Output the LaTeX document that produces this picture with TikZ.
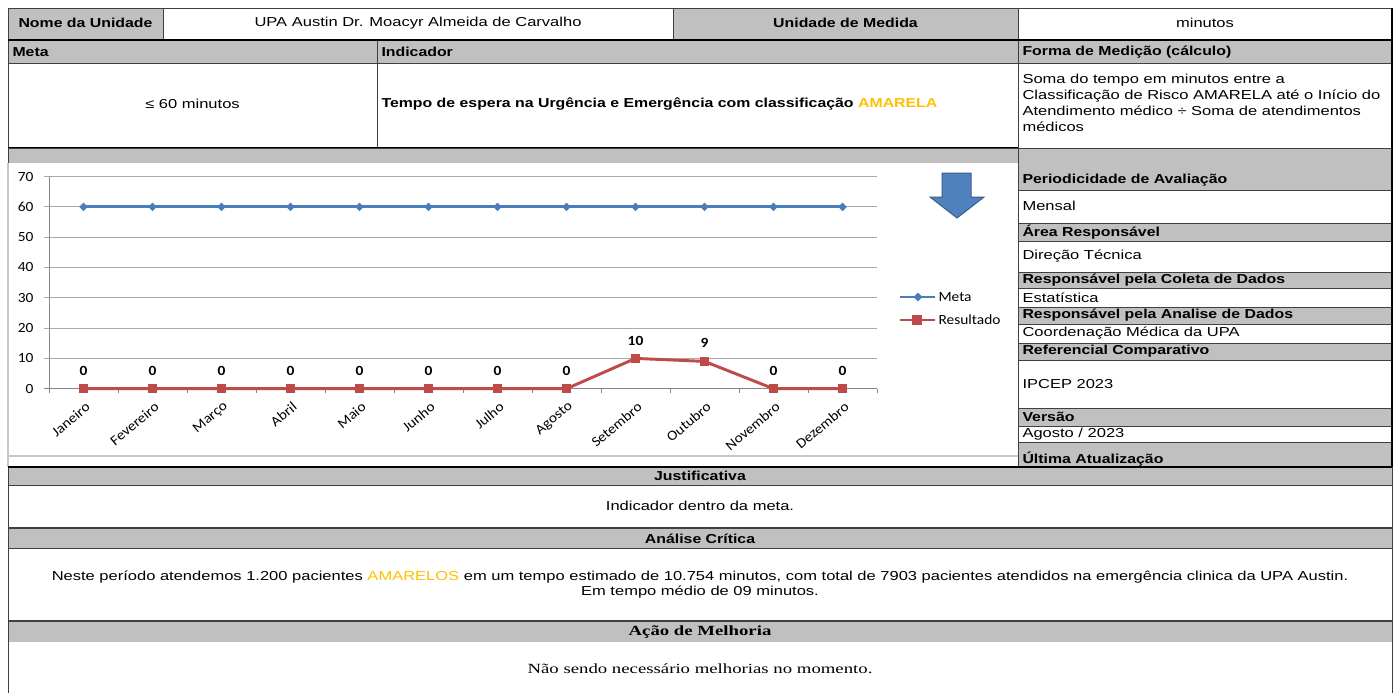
\documentclass[tikz,border=0pt]{standalone}
\usepackage{fontspec}
\setmainfont{Liberation Sans}[FakeStretch=1.27, BoldFeatures={FakeStretch=1.22}]
\newfontfamily\chartfont{Carlito}[FakeStretch=1.1]
\newfontfamily\timesfont{Liberation Serif}[FakeStretch=1.34]

\definecolor{cellgray}{RGB}{192,192,192}
\definecolor{edgegray}{RGB}{64,64,64}
\definecolor{bordergray}{RGB}{200,200,200}
\definecolor{gridgray}{RGB}{170,170,170}
\definecolor{axisgray}{RGB}{134,134,134}
\definecolor{amarelo}{RGB}{255,192,0}
\definecolor{metablue}{RGB}{74,126,187}
\definecolor{resred}{RGB}{190,75,72}
\definecolor{arrowblue}{RGB}{79,129,189}
\definecolor{arrowedge}{RGB}{56,93,138}

\newcommand\celltxt{\fontsize{9.75}{12}\selectfont}
\newcommand\charttxt{\chartfont\fontsize{10.5}{12}\selectfont}
\newcommand\serifcell{\timesfont\fontsize{10.5}{12}\selectfont}

\tikzset{every picture/.style={line width=0.75pt}}
\tikzset{
  graycell/.style={draw=edgegray, fill=cellgray},
  whitecell/.style={draw=edgegray, fill=white},
  celltext/.style={inner sep=0.75pt, font=\celltxt},
  cellhead/.style={inner sep=0.75pt, font=\celltxt\bfseries},
  serifhead/.style={inner sep=0.75pt, font=\serifcell\bfseries},
  seriftext/.style={inner sep=0.75pt, font=\serifcell},
  gridline/.style={draw=gridgray},
  axistext/.style={inner sep=0.75pt, font=\charttxt},
  datalabel/.style={inner sep=0.75pt, font=\charttxt\bfseries},
  monthlabel/.style={inner sep=0.75pt, font=\charttxt, anchor=east, rotate=40},
  metaline/.style={draw=metablue, line width=2.2pt},
  resline/.style={draw=resred, line width=2.2pt},
  metamark/.style={rectangle, fill=metablue, inner sep=0pt, minimum size=4.6pt, rotate=45},
  resmark/.style={rectangle, fill=resred, inner sep=0pt, minimum size=7pt},
}

\begin{document}
\begin{tikzpicture}[x=0.75pt,y=0.75pt,yscale=-1,xscale=1]
%set diagram left start at 0, and has height of 693
\useasboundingbox (0,0) rectangle (1400,693);
\fill[white] (0,0) rectangle (1400,693);

%Shape: Rectangle (first row)
\draw[graycell] (8,8) rectangle (163,40);
\draw[whitecell] (163,8) rectangle (673,40);
\draw[graycell] (673,8) rectangle (1018,40);
\draw[whitecell] (1018,8) rectangle (1392,40);
%Shape: Rectangle (headers)
\draw[graycell] (8,40) rectangle (377,63);
\draw[graycell] (377,40) rectangle (1018,63);
\draw[graycell] (1018,40) rectangle (1392,63);
%Shape: Rectangle (meta, indicador, calculo)
\draw[whitecell] (8,63) rectangle (377,148);
\draw[whitecell] (377,63) rectangle (1018,148);
\draw[whitecell] (1018,63) rectangle (1392,148);
%Straight Lines
\draw[line width=1.5pt] (8,40) -- (1392,40);
\draw[line width=1.5pt] (8,148) -- (1018,148);

%Shape: Rectangle (chart area)
\draw[graycell] (8,148) rectangle (1018,163);
\fill[white] (8,163) rectangle (1018,467);
\draw[draw=bordergray, line width=1.5pt] (8,163) -- (8,467);
\draw[draw=bordergray, line width=1.5pt] (8,456) -- (1018,456);

%Shape: Rectangle (right column)
\draw[graycell] (1018,148) rectangle (1392,190);
\draw[whitecell] (1018,190) rectangle (1392,223);
\draw[graycell] (1018,223) rectangle (1392,241);
\draw[whitecell] (1018,241) rectangle (1392,272);
\draw[graycell] (1018,272) rectangle (1392,288);
\draw[whitecell] (1018,288) rectangle (1392,307);
\draw[graycell] (1018,307) rectangle (1392,324);
\draw[whitecell] (1018,324) rectangle (1392,343);
\draw[graycell] (1018,343) rectangle (1392,360);
\draw[whitecell] (1018,360) rectangle (1392,408);
\draw[graycell] (1018,408) rectangle (1392,426);
\draw[whitecell] (1018,426) rectangle (1392,442);
\draw[graycell] (1018,442) rectangle (1392,467);
%Straight Lines
\draw[line width=1.5pt] (1392,8) -- (1392,467);

%Shape: Rectangle (bottom sections)
\draw[graycell] (8,467) rectangle (1392,485);
\draw[whitecell] (8,485) rectangle (1392,528);
\draw[graycell] (8,528) rectangle (1392,548);
\draw[whitecell] (8,548) rectangle (1392,621);
\draw[graycell] (8,621) rectangle (1392,642);
\fill[white] (8,642) rectangle (1392,693);
\draw[draw=edgegray] (8,642) -- (8,693);
\draw[draw=edgegray] (1392,642) -- (1392,693);
%Straight Lines
\draw[line width=1.5pt] (8,467) -- (1392,467);
\draw[draw=edgegray, line width=1.2pt] (8,528) -- (1392,528);
\draw[draw=edgegray, line width=1.2pt] (8,621) -- (1392,621);

% Text Node
\draw (85.5,23) node (nomeUnid) [cellhead] {Nome da Unidade};
% Text Node
\draw (418,23) node (nomeUpa) [celltext] {UPA Austin Dr. Moacyr Almeida de Carvalho};
% Text Node
\draw (845.5,23) node (unidMedida) [cellhead] {Unidade de Medida};
% Text Node
\draw (1205,23) node (minutos) [celltext] {minutos};
% Text Node
\draw (11,52) node (meta) [cellhead, anchor=west] {Meta};
% Text Node
\draw (380,52) node (indicador) [cellhead, anchor=west] {Indicador};
% Text Node
\draw (1021,52) node (formaMed) [cellhead, anchor=west] {Forma de Medição (cálculo)};
% Text Node
\draw (192.5,104) node (metaVal) [celltext] {≤ 60 minutos};
% Text Node
\draw (380,104) node (indicVal) [cellhead, anchor=west] {Tempo de espera na Urgência e Emergência com classificação \textcolor{amarelo}{AMARELA}};
% Text Node
\draw (1021,103) node (calculo) [celltext, anchor=west, align=left] {Soma do tempo em minutos entre a\\Classificação de Risco AMARELA até o Início do\\Atendimento médico ÷ Soma de atendimentos\\médicos};

% Text Node
\draw (1021,180) node (periodo) [cellhead, anchor=west] {Periodicidade de Avaliação};
\draw (1021,206) node (mensal) [celltext, anchor=west] {Mensal};
\draw (1021,232) node (area) [cellhead, anchor=west] {Área Responsável};
\draw (1021,256) node (direcao) [celltext, anchor=west] {Direção Técnica};
\draw (1021,280) node (coleta) [cellhead, anchor=west] {Responsável pela Coleta de Dados};
\draw (1021,297.5) node (estat) [celltext, anchor=west] {Estatística};
\draw (1021,315.5) node (analise) [cellhead, anchor=west] {Responsável pela Analise de Dados};
\draw (1021,333.5) node (coord) [celltext, anchor=west] {Coordenação Médica da UPA};
\draw (1021,351.5) node (referencial) [cellhead, anchor=west] {Referencial Comparativo};
\draw (1021,384) node (ipcep) [celltext, anchor=west] {IPCEP 2023};
\draw (1021,417) node (versao) [cellhead, anchor=west] {Versão};
\draw (1021,434) node (agosto) [celltext, anchor=west] {Agosto / 2023};
\draw (1021,459) node (ultima) [cellhead, anchor=west] {Última Atualização};

% Text Node
\draw (700,476) node (justif) [cellhead] {Justificativa};
\draw (700,506) node (justifTxt) [celltext] {Indicador dentro da meta.};
\draw (700,538.5) node (critica) [cellhead] {Análise Crítica};
\draw (700,584.5) node (criticaTxt) [celltext, align=center, font=\fontsize{9.75}{11.25}\selectfont] {Neste período atendemos 1.200 pacientes \textcolor{amarelo}{AMARELOS} em um tempo estimado de 10.754 minutos, com total de 7903 pacientes atendidos na emergência clinica da UPA Austin.\\Em tempo médio de 09 minutos.};
\draw (700,632) node (melhoria) [serifhead] {Ação de Melhoria};
\draw (700,669) node (melhoriaTxt) [seriftext] {Não sendo necessário melhorias no momento.};

%Straight Lines (grid)
\draw[gridline] (44,358.4) -- (877,358.4);
\draw[gridline] (44,328.1) -- (877,328.1);
\draw[gridline] (44,297.8) -- (877,297.8);
\draw[gridline] (44,267.5) -- (877,267.5);
\draw[gridline] (44,237.2) -- (877,237.2);
\draw[gridline] (44,206.9) -- (877,206.9);
\draw[gridline] (44,176.6) -- (877,176.6);
%Straight Lines (axes)
\draw[draw=axisgray] (49,176.6) -- (49,393);
\draw[draw=axisgray] (44,388.7) -- (877,388.7);
\draw[draw=axisgray] (118,388.7) -- (118,393) (187,388.7) -- (187,393) (256,388.7) -- (256,393) (325,388.7) -- (325,393) (394,388.7) -- (394,393) (463,388.7) -- (463,393) (532,388.7) -- (532,393) (601,388.7) -- (601,393) (670,388.7) -- (670,393) (739,388.7) -- (739,393) (808,388.7) -- (808,393) (877,388.7) -- (877,393);

% Text Node
\draw (35,388.7) node (y0) [axistext, anchor=east] {0};
\draw (35,358.4) node (y10) [axistext, anchor=east] {10};
\draw (35,328.1) node (y20) [axistext, anchor=east] {20};
\draw (35,297.8) node (y30) [axistext, anchor=east] {30};
\draw (35,267.5) node (y40) [axistext, anchor=east] {40};
\draw (35,237.2) node (y50) [axistext, anchor=east] {50};
\draw (35,206.9) node (y60) [axistext, anchor=east] {60};
\draw (35,176.6) node (y70) [axistext, anchor=east] {70};

% Data points
\coordinate (mt1) at (83.5,206.9);
\coordinate (mt2) at (152.5,206.9);
\coordinate (mt3) at (221.5,206.9);
\coordinate (mt4) at (290.5,206.9);
\coordinate (mt5) at (359.5,206.9);
\coordinate (mt6) at (428.5,206.9);
\coordinate (mt7) at (497.5,206.9);
\coordinate (mt8) at (566.5,206.9);
\coordinate (mt9) at (635.5,206.9);
\coordinate (mt10) at (704.5,206.9);
\coordinate (mt11) at (773.5,206.9);
\coordinate (mt12) at (842.5,206.9);
\coordinate (rs1) at (83.5,388.7);
\coordinate (rs2) at (152.5,388.7);
\coordinate (rs3) at (221.5,388.7);
\coordinate (rs4) at (290.5,388.7);
\coordinate (rs5) at (359.5,388.7);
\coordinate (rs6) at (428.5,388.7);
\coordinate (rs7) at (497.5,388.7);
\coordinate (rs8) at (566.5,388.7);
\coordinate (rs9) at (635.5,358.4);
\coordinate (rs10) at (704.5,361.4);
\coordinate (rs11) at (773.5,388.7);
\coordinate (rs12) at (842.5,388.7);

%Straight Lines (Meta series)
\draw[metaline] (mt1) -- (mt2) -- (mt3) -- (mt4) -- (mt5) -- (mt6) -- (mt7) -- (mt8) -- (mt9) -- (mt10) -- (mt11) -- (mt12);
%Straight Lines (Resultado series)
\draw[resline] (rs1) -- (rs2) -- (rs3) -- (rs4) -- (rs5) -- (rs6) -- (rs7) -- (rs8) -- (rs9) -- (rs10) -- (rs11) -- (rs12);
% Markers
\path (mt1) node (mk1) [metamark] {} (mt2) node (mk2) [metamark] {} (mt3) node (mk3) [metamark] {} (mt4) node (mk4) [metamark] {} (mt5) node (mk5) [metamark] {} (mt6) node (mk6) [metamark] {} (mt7) node (mk7) [metamark] {} (mt8) node (mk8) [metamark] {} (mt9) node (mk9) [metamark] {} (mt10) node (mk10) [metamark] {} (mt11) node (mk11) [metamark] {} (mt12) node (mk12) [metamark] {};
\path (rs1) node (rk1) [resmark] {} (rs2) node (rk2) [resmark] {} (rs3) node (rk3) [resmark] {} (rs4) node (rk4) [resmark] {} (rs5) node (rk5) [resmark] {} (rs6) node (rk6) [resmark] {} (rs7) node (rk7) [resmark] {} (rs8) node (rk8) [resmark] {} (rs9) node (rk9) [resmark] {} (rs10) node (rk10) [resmark] {} (rs11) node (rk11) [resmark] {} (rs12) node (rk12) [resmark] {};

% Text Node
\draw (83.5,370.5) node (d1) [datalabel] {0};
\draw (152.5,370.5) node (d2) [datalabel] {0};
\draw (221.5,370.5) node (d3) [datalabel] {0};
\draw (290.5,370.5) node (d4) [datalabel] {0};
\draw (359.5,370.5) node (d5) [datalabel] {0};
\draw (428.5,370.5) node (d6) [datalabel] {0};
\draw (497.5,370.5) node (d7) [datalabel] {0};
\draw (566.5,370.5) node (d8) [datalabel] {0};
\draw (635.5,340.5) node (d9) [datalabel] {10};
\draw (704.5,343.4) node (d10) [datalabel] {9};
\draw (773.5,370.5) node (d11) [datalabel] {0};
\draw (842.5,370.5) node (d12) [datalabel] {0};

% Text Node
\draw (89,404) node (m1) [monthlabel] {Janeiro};
\draw (158,404) node (m2) [monthlabel] {Fevereiro};
\draw (227,404) node (m3) [monthlabel] {Março};
\draw (296,404) node (m4) [monthlabel] {Abril};
\draw (365,404) node (m5) [monthlabel] {Maio};
\draw (434,404) node (m6) [monthlabel] {Junho};
\draw (503,404) node (m7) [monthlabel] {Julho};
\draw (572,404) node (m8) [monthlabel] {Agosto};
\draw (641,404) node (m9) [monthlabel] {Setembro};
\draw (710,404) node (m10) [monthlabel] {Outubro};
\draw (779,404) node (m11) [monthlabel] {Novembro};
\draw (848,404) node (m12) [monthlabel] {Dezembro};

%Straight Lines (legend)
\coordinate (lgMa) at (900,297);
\coordinate (lgMb) at (935,297);
\coordinate (lgRa) at (900,320);
\coordinate (lgRb) at (935,320);
\draw[metaline] (lgMa) -- (lgMb);
\draw (918,297) node (lgMk) [metamark] {};
\draw (937,297) node (legMeta) [axistext, anchor=west] {Meta};
\draw[resline] (lgRa) -- (lgRb);
\draw (917,320) node (lgRk) [resmark] {};
\draw (937,320) node (legRes) [axistext, anchor=west] {Resultado};

%Shape: Down Arrow
\draw[fill=arrowblue, draw=arrowedge] (942,173) -- (971,173) -- (971,197) -- (984,197) -- (957,218) -- (930,197) -- (942,197) -- cycle;

\end{tikzpicture}
\end{document}
